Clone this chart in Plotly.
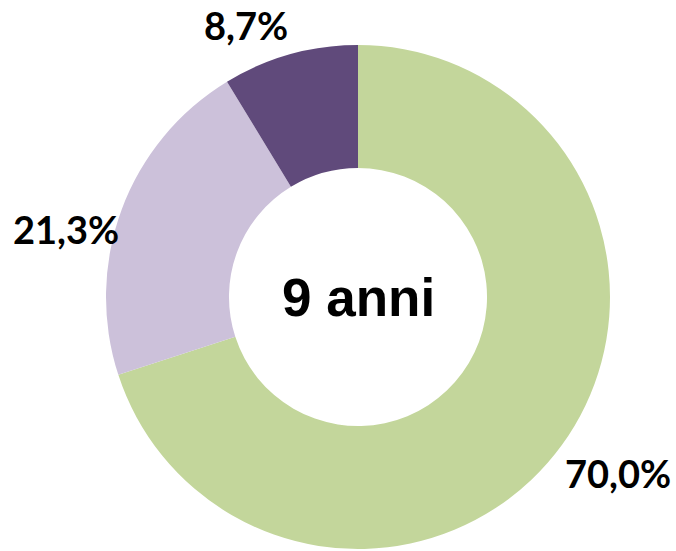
import math
import plotly.graph_objects as go

categories = ["A", "B", "C"]
values = [70.0, 21.3, 8.7]
label_texts = ["70,0%", "21,3%", "8,7%"]
colors = ["#C3D69B", "#CCC1DA", "#604A7B"]
center_text = "9 anni"

W, H = 676, 551
CX, CY, R = 358, 297, 252
HOLE = 0.512
LABEL_GAP = 12
NUDGE = [(-9, -4), (11, 24), (3, 7)]

fig = go.Figure(go.Pie(
    labels=categories,
    values=values,
    sort=False,
    direction="clockwise",
    rotation=0,
    hole=HOLE,
    marker=dict(colors=colors, line=dict(width=0)),
    textinfo="none",
    hoverinfo="skip",
    showlegend=False,
    domain=dict(x=[(CX - R) / W, (CX + R) / W], y=[1 - (CY + R) / H, 1 - (CY - R) / H]),
))

total = sum(values)
cum = 0.0
annotations = []
for v, t, (nx, ny) in zip(values, label_texts, NUDGE):
    mid = (cum + v / 2) / total * 2 * math.pi
    cum += v
    s, c = math.sin(mid), math.cos(mid)
    px = CX + (R + LABEL_GAP) * s
    py = CY - (R + LABEL_GAP) * c
    xa = "left" if s > 0.2 else ("right" if s < -0.2 else "center")
    ya = "top" if c < -0.5 else ("bottom" if c > 0.5 else "middle")
    annotations.append(dict(
        x=px / W, y=1 - py / H, xref="paper", yref="paper",
        text=t, showarrow=False, xanchor=xa, yanchor=ya,
        xshift=nx, yshift=-ny,
        font=dict(family="Lato", size=38, color="black", weight=700),
    ))

annotations.append(dict(
    x=CX / W, y=1 - CY / H, xref="paper", yref="paper",
    text=center_text, showarrow=False, xanchor="center", yanchor="middle",
    font=dict(family="Liberation Sans", size=53, color="black", weight=700),
))

fig.update_layout(
    width=W, height=H,
    margin=dict(l=0, r=0, t=0, b=0),
    paper_bgcolor="white",
    plot_bgcolor="white",
    annotations=annotations,
)

fig.write_html("out.html", config={"displayModeBar": False},
               post_script="document.body.style.margin='0';")
